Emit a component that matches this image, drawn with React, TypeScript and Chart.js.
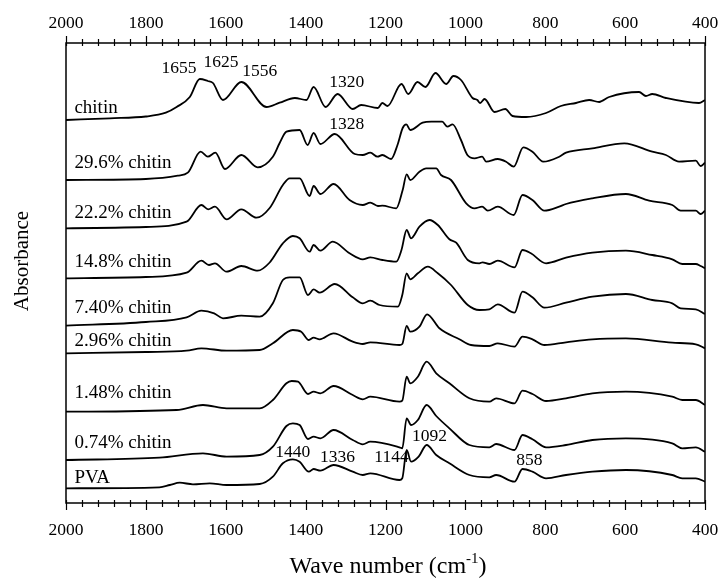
import { useEffect, useRef } from "react";
import { Chart, registerables } from "chart.js";

Chart.register(...registerables);

const FONT = '"Liberation Serif", "Times New Roman", serif';

// Wavenumbers (cm-1) and stacked absorbance (arbitrary units, offset per spectrum)
const chitinWave = [2000, 1890, 1800, 1750, 1723, 1690, 1665, 1645, 1632, 1607, 1561, 1498, 1465, 1427, 1398, 1380, 1350, 1320, 1282, 1261, 1219, 1208, 1195, 1160, 1143, 1120, 1100, 1075, 1048, 1030, 1011, 982, 970, 963, 952, 927, 900, 882, 848, 798, 761, 723, 690, 665, 640, 565, 548, 532, 498, 415, 400];
const chitinAbs = [383, 384.7, 386.5, 390.3, 396, 406, 424, 422, 420, 403, 421, 396, 400.3, 405, 403, 416, 396, 409, 394, 398, 395, 400, 397, 419, 409, 421, 416, 430, 419, 427, 423, 405, 403, 400, 404, 391, 394, 387, 386, 390, 397, 400, 403, 401, 406, 411, 407, 409, 405, 400, 403];

const c296Wave = [2000, 1800, 1720, 1695, 1663, 1645, 1626, 1602, 1561, 1520, 1482, 1465, 1448, 1415, 1395, 1380, 1363, 1327, 1277, 1257, 1238, 1220, 1208, 1186, 1170, 1157, 1148, 1138, 1107, 1085, 1058, 1045, 1032, 1011, 995, 977, 958, 948, 919, 898, 879, 855, 832, 805, 765, 748, 682, 602, 532, 498, 465, 423, 411, 400];
const c296Abs = [323, 324, 327.3, 330.3, 351.3, 346.3, 350.3, 334, 348, 335.7, 346.3, 360, 371.3, 373, 358, 370, 359, 369, 349, 348, 350.3, 346.3, 348, 344, 358, 375, 378.7, 373, 380.3, 381.3, 381.3, 376.3, 378.7, 363, 348, 344.7, 346.3, 341.3, 344, 341.3, 336.3, 355.7, 351.3, 341.3, 346.3, 350.3, 354.7, 359.7, 351.3, 348, 341.3, 342.3, 337, 340.3];

const c222Wave = [2000, 1800, 1698, 1661, 1644, 1627, 1598, 1561, 1523, 1490, 1457, 1440, 1415, 1390, 1380, 1363, 1330, 1290, 1257, 1238, 1219, 1208, 1173, 1157, 1147, 1138, 1115, 1098, 1073, 1061, 1036, 998, 977, 958, 944, 919, 879, 857, 832, 802, 765, 748, 682, 598, 540, 482, 461, 423, 411, 400];
const c222Abs = [274.7, 276, 281.3, 298, 293.7, 296.3, 283.7, 293.7, 285.3, 295, 318, 324.7, 324.7, 307, 317, 309, 319, 303, 298, 300.3, 297, 297.3, 294.7, 313, 328.7, 323, 331.3, 334.7, 334.7, 328, 323, 299.7, 294.7, 296.3, 292.3, 296.3, 288, 308, 303, 292.3, 296.3, 299, 304.7, 309, 302.3, 298, 292.3, 292.3, 289, 292.3];

const c148Wave = [2000, 1800, 1698, 1661, 1642, 1627, 1598, 1561, 1520, 1490, 1457, 1432, 1415, 1390, 1380, 1363, 1332, 1290, 1257, 1238, 1208, 1173, 1160, 1147, 1136, 1115, 1090, 1069, 1040, 1023, 994, 965, 957, 940, 919, 877, 857, 836, 798, 748, 682, 598, 532, 482, 457, 423, 411, 400];
const c148Abs = [224.7, 226, 230.3, 242.3, 238, 239.7, 231.3, 237, 232.3, 240.5, 259.7, 267, 264.7, 251.3, 258, 252.3, 261.3, 249.7, 243.7, 245.7, 243, 241.3, 253, 273, 264.7, 276.3, 283, 278, 263.7, 260.3, 243, 239.7, 240.7, 239, 242.3, 235.7, 253, 249.7, 239.7, 245.3, 250.3, 252.3, 248, 243.7, 239, 239, 237, 234.7];

const c740Wave = [2000, 1800, 1698, 1661, 1629, 1607, 1561, 1515, 1482, 1457, 1440, 1415, 1394, 1380, 1365, 1327, 1282, 1257, 1238, 1215, 1169, 1158, 1147, 1138, 1119, 1094, 1069, 1036, 994, 965, 940, 919, 877, 857, 832, 802, 748, 682, 598, 532, 482, 461, 423, 400];
const c740Abs = [177.3, 181, 185.7, 192.3, 189.7, 184.7, 187.3, 186.3, 199.7, 223, 225.7, 225.7, 208, 213.7, 210.3, 219, 205.7, 199.7, 202.3, 198, 196.3, 208, 229.7, 223.7, 229.7, 236.3, 229.7, 218, 198, 193, 193.7, 198.7, 190.3, 211.3, 205.7, 195.3, 200.3, 206.3, 209, 203, 199.7, 194.7, 193.7, 189];

const c296bWave = [2000, 1800, 1698, 1661, 1598, 1515, 1482, 1432, 1411, 1392, 1380, 1365, 1330, 1282, 1257, 1238, 1165, 1158, 1147, 1138, 1115, 1096, 1065, 1015, 986, 940, 919, 877, 857, 832, 802, 748, 682, 598, 482, 423, 400];
const c296bAbs = [149.7, 151, 152.3, 154.7, 152.3, 153, 159.7, 173, 171.3, 163, 165.3, 163.7, 169.7, 161.3, 159, 160.7, 158, 159, 177, 171.3, 176.3, 188.7, 174.7, 163.7, 158, 157, 159.7, 156.3, 166.3, 163.7, 158, 160.7, 163.7, 164.7, 160.3, 158.7, 154.7];

const c148bWave = [2000, 1723, 1657, 1598, 1515, 1482, 1448, 1435, 1419, 1394, 1380, 1363, 1330, 1282, 1257, 1238, 1165, 1158, 1147, 1138, 1119, 1097, 1073, 1040, 990, 940, 923, 877, 857, 832, 798, 748, 682, 598, 482, 457, 423, 400];
const c148bAbs = [91.3, 93, 98, 94.7, 94.7, 103, 119.7, 122, 121.3, 109, 111.3, 109.7, 117, 108, 103.7, 106.3, 101.3, 102.3, 126.3, 119.7, 126.3, 141.3, 129.7, 119.7, 104.7, 101.3, 104.7, 99.7, 112.3, 109, 102, 104.7, 109.7, 111.3, 106.3, 103, 103, 98];

const c074Wave = [2000, 1766, 1657, 1598, 1515, 1482, 1448, 1432, 1415, 1394, 1380, 1363, 1330, 1282, 1257, 1238, 1165, 1158, 1147, 1136, 1119, 1097, 1073, 1040, 990, 940, 923, 877, 857, 832, 798, 748, 682, 598, 482, 457, 423, 400];
const c074Abs = [43, 45.3, 49.7, 46.3, 48, 56.3, 77, 79.7, 78, 64, 66.3, 64.7, 73, 63, 58.7, 61.3, 55.7, 54.7, 84.7, 78, 83, 98, 87, 74.7, 58, 55.7, 59, 53, 68, 63.7, 55.7, 58, 63, 64.7, 59.7, 54.7, 55.7, 51.3];

const pvaWave = [2000, 1766, 1740, 1715, 1682, 1640, 1598, 1515, 1482, 1457, 1432, 1415, 1392, 1380, 1363, 1330, 1282, 1257, 1238, 1165, 1158, 1147, 1136, 1117, 1097, 1073, 1040, 990, 940, 923, 877, 857, 832, 798, 748, 682, 598, 482, 457, 423, 400];
const pvaAbs = [14.7, 15.7, 18, 20.3, 18.7, 19.7, 18, 19, 26.3, 39.7, 43.7, 41.3, 31.3, 34, 32.3, 38, 31.3, 28, 29.7, 23, 24.7, 53, 41.3, 46.3, 58, 48, 39.7, 28, 25.7, 28, 21.3, 34, 31.3, 24.7, 28, 31.3, 33, 28, 24.7, 24.7, 21.3];

const seriesNames = ["chitin", "29.6% chitin", "22.2% chitin", "14.8% chitin", "7.40% chitin", "2.96% chitin", "1.48% chitin", "0.74% chitin", "PVA"];
const seriesLabelAbs = [395, 340, 290, 241, 195, 162, 110, 60, 25];
const seriesLabelWave = 1979;

const peakText = ["1655", "1625", "1556", "1320", "1328", "1440", "1336", "1144", "1092", "858"];
const peakWave = [1717, 1612, 1515, 1297, 1297, 1432, 1320, 1185, 1090, 840];
const peakAbs = [435, 441, 432, 421, 379, 51, 46, 46, 67, 43];

const xMin = 400;
const xMax = 2000;
const majorStep = 200;
const minorStep = 40;

export default function App() {
  const ref = useRef<HTMLCanvasElement>(null);

  useEffect(() => {
    const waves = [chitinWave, c296Wave, c222Wave, c148Wave, c740Wave, c296bWave, c148bWave, c074Wave, pvaWave];
    const abs = [chitinAbs, c296Abs, c222Abs, c148Abs, c740Abs, c296bAbs, c148bAbs, c074Abs, pvaAbs];
    const datasets = waves.map((w, i) => ({
      label: seriesNames[i],
      data: w.map((x, j) => ({ x, y: abs[i][j] })),
      borderColor: "#000",
      borderWidth: 1.8,
      pointRadius: 0,
      fill: false,
      cubicInterpolationMode: "monotone" as const,
    }));

    const decor = {
      id: "decor",
      afterDatasetsDraw(chart: any) {
        const ctx = chart.ctx;
        const { left, right, top, bottom } = chart.chartArea;
        const xs = chart.scales.x;
        const ys = chart.scales.y;
        ctx.save();
        ctx.strokeStyle = "#000";
        ctx.lineWidth = 1.5;
        ctx.strokeRect(left, top, right - left, bottom - top);
        ctx.lineWidth = 1.2;
        for (let v = xMin; v <= xMax; v += minorStep) {
          const px = Math.round(xs.getPixelForValue(v)) + 0.5;
          const major = v % majorStep === 0;
          const out = major ? 7 : 4;
          ctx.beginPath();
          ctx.moveTo(px, bottom - 3);
          ctx.lineTo(px, bottom + out);
          ctx.moveTo(px, top + 3);
          ctx.lineTo(px, top - out);
          ctx.stroke();
        }
        ctx.fillStyle = "#000";
        ctx.textBaseline = "middle";
        ctx.font = `19px ${FONT}`;
        ctx.textAlign = "left";
        seriesNames.forEach((n, i) => {
          ctx.fillText(n, xs.getPixelForValue(seriesLabelWave), ys.getPixelForValue(seriesLabelAbs[i]));
        });
        ctx.font = `17.5px ${FONT}`;
        ctx.textAlign = "center";
        peakText.forEach((t, i) => {
          ctx.fillText(t, xs.getPixelForValue(peakWave[i]), ys.getPixelForValue(peakAbs[i]));
        });
        // axis titles
        ctx.font = `24px ${FONT}`;
        const main = "Wave number (cm";
        const sup = "-1";
        const close = ")";
        const wMain = ctx.measureText(main).width;
        const wClose = ctx.measureText(close).width;
        ctx.font = `15px ${FONT}`;
        const wSup = ctx.measureText(sup).width;
        const total = wMain + wSup + wClose;
        const cx = 388;
        const x0 = cx - total / 2;
        const ty = 566;
        ctx.textAlign = "left";
        ctx.textBaseline = "alphabetic";
        ctx.font = `24px ${FONT}`;
        ctx.fillText(main, x0, ty + 7);
        ctx.font = `15px ${FONT}`;
        ctx.fillText(sup, x0 + wMain, ty - 3);
        ctx.font = `24px ${FONT}`;
        ctx.fillText(close, x0 + wMain + wSup, ty + 7);
        ctx.save();
        ctx.translate(22, 261);
        ctx.rotate(-Math.PI / 2);
        ctx.textAlign = "center";
        ctx.textBaseline = "middle";
        ctx.font = `21px ${FONT}`;
        ctx.fillText("Absorbance", 0, 0);
        ctx.restore();
        ctx.restore();
      },
    };

    const tickFont = { family: FONT, size: 17.5 };
    const fmt = (v: any) => String(v);
    const chart = new Chart(ref.current as HTMLCanvasElement, {
      type: "line",
      data: { datasets },
      options: {
        animation: false,
        responsive: false,
        events: [],
        layout: { padding: { left: 66, right: 14, top: 0, bottom: 0 } },
        plugins: { legend: { display: false }, tooltip: { enabled: false } },
        scales: {
          x: {
            type: "linear",
            position: "bottom",
            reverse: true,
            min: xMin,
            max: xMax,
            ticks: { stepSize: majorStep, font: tickFont, color: "#000", padding: 9, maxRotation: 0, callback: fmt },
            grid: { display: false },
            border: { display: false },
            afterFit: (s: any) => { s.height = 80; s.paddingLeft = 0; s.paddingRight = 0; },
          },
          xTop: {
            type: "linear",
            axis: "x",
            position: "top",
            reverse: true,
            min: xMin,
            max: xMax,
            ticks: { stepSize: majorStep, font: tickFont, color: "#000", padding: 1, maxRotation: 0, callback: fmt },
            grid: { display: false },
            border: { display: false },
            afterFit: (s: any) => { s.height = 43; s.paddingLeft = 0; s.paddingRight = 0; },
          },
          y: { type: "linear", display: false, min: 0, max: 460 },
        },
      } as any,
      plugins: [decor],
    });
    return () => chart.destroy();
  }, []);

  return (
    <div style={{ position: "absolute", left: 0, top: 0, width: 719, height: 583, background: "#fff" }}>
      <canvas ref={ref} width={719} height={583} style={{ display: "block" }} />
    </div>
  );
}
